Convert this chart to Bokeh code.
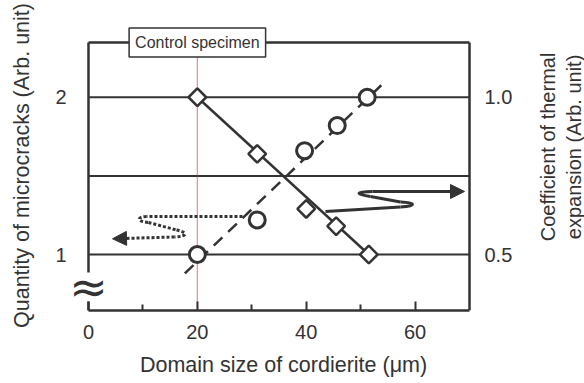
from math import pi
from bokeh.plotting import figure
from bokeh.layouts import row
from bokeh.models import (Range1d, LinearAxis, FixedTicker, PrintfTickFormatter,
                          Label, Arrow, NormalHead)
from bokeh.embed import file_html
from bokeh.resources import INLINE

# ---------------- data ----------------
domain_size = [20, 31, 40, 45.5, 51.5]          # diamonds: quantity of microcracks
microcracks = [2.0, 1.64, 1.29, 1.18, 1.0]
cte_domain = [20, 31, 39.7, 45.7, 51.2]         # circles: coefficient of thermal expansion
cte = [0.5, 0.61, 0.83, 0.91, 1.0]
cte_trend_x = [17.7, 54.5]
cte_trend_y = [0.44, 1.05]
control_x = 20
grid_levels = [1, 1.5, 2]
x_ticks = [0, 20, 40, 60]
x_minor = [10, 30, 50]
left_ticks = [1, 2]
right_ticks = [0.5, 1.0]
right_title = ["Coefficient of thermal", "expansion (Arb. unit)"]

INK = "#333333"
FONT = "Liberation Sans"

XMIN, XMAX = 0, 70            # plotted box
YMIN, YMAX = 0.644, 2.348
BREAK_LO, BREAK_HI = 0.701, 0.886
YTOP = 2.488

p = figure(width=518, height=383,
           x_range=Range1d(-3.307, 74.96), y_range=Range1d(YMIN, YTOP),
           output_backend="svg", toolbar_location=None,
           min_border_left=70, min_border_right=22, min_border_top=20, min_border_bottom=73)
p.background_fill_color = "white"
p.border_fill_color = "white"
p.outline_line_color = None
p.xgrid.visible = False
p.ygrid.visible = False

# x axis
xa = p.xaxis[0]
xa.ticker = FixedTicker(ticks=x_ticks, minor_ticks=x_minor)
xa.bounds = (XMIN, XMAX)
xa.axis_line_color = INK
xa.axis_line_width = 2.5
xa.major_tick_in = 9
xa.major_tick_out = 0
xa.minor_tick_in = 6
xa.minor_tick_out = 0
xa.major_tick_line_color = INK
xa.minor_tick_line_color = INK
xa.major_tick_line_width = 2
xa.minor_tick_line_width = 2
xa.axis_label = "Domain size of cordierite (μm)"

# left axis
ya = p.yaxis[0]
ya.ticker = FixedTicker(ticks=left_ticks)
ya.formatter = PrintfTickFormatter(format="%d")
ya.axis_line_color = None
ya.major_tick_in = 0
ya.major_tick_out = 0
ya.minor_tick_line_color = None
ya.axis_label = "Quantity of microcracks (Arb. unit)"

# right axis (tick labels only; title in side panel)
p.extra_y_ranges = {"cte": Range1d(YMIN / 2, YTOP / 2)}
ra = LinearAxis(y_range_name="cte")
ra.ticker = FixedTicker(ticks=right_ticks)
ra.formatter = PrintfTickFormatter(format="%.1f")
ra.axis_line_color = None
ra.major_tick_in = 0
ra.major_tick_out = 0
ra.minor_tick_line_color = None
p.add_layout(ra, "right")

for ax in (xa, ya, ra):
    ax.major_label_text_font = FONT
    ax.major_label_text_font_size = "20px"
    ax.major_label_text_color = INK
    ax.axis_label_text_font = FONT
    ax.axis_label_text_font_size = "21.5px"
    ax.axis_label_text_color = INK
    ax.axis_label_text_font_style = "normal"
xa.major_label_standoff = 14
xa.axis_label_standoff = 11
ya.major_label_standoff = 4
ya.axis_label_standoff = 18
ra.major_label_standoff = -12

# box lines (top, right, left with break) and horizontal levels
p.segment(x0=[XMIN, XMAX, XMIN, XMIN], y0=[YMAX, YMIN, YMIN, BREAK_HI],
          x1=[XMAX, XMAX, XMIN, XMIN], y1=[YMAX, YMAX, BREAK_LO, YMAX],
          line_color=INK, line_width=2.5)
p.segment(x0=[XMIN] * len(grid_levels), y0=grid_levels,
          x1=[XMAX] * len(grid_levels), y1=grid_levels, line_color=INK, line_width=2)
# control specimen line
p.segment(x0=[control_x], y0=[YMIN], x1=[control_x], y1=[YMAX],
          line_color="#e3262a", line_width=1.3, line_dash="1 1")

# fitted lines
p.line([domain_size[0], domain_size[-1]], [microcracks[0], microcracks[-1]],
       line_color=INK, line_width=2.5)
p.line(cte_trend_x, cte_trend_y, y_range_name="cte", line_color=INK,
       line_width=2.5, line_dash="12 8")

# markers
p.scatter(domain_size, microcracks, marker="square", angle=pi / 4, size=12.5,
          fill_color="white", line_color=INK, line_width=2.5)
p.scatter(cte_domain, cte, marker="circle", size=16, y_range_name="cte",
          fill_color="white", line_color=INK, line_width=3)

# solid S-arrow (to right axis)
p.multi_line([[43.54, 57.32], [57.32, 51.81]], [[1.2736, 1.3022], [1.3340, 1.3690]],
             line_color=INK, line_width=3)
p.bezier(x0=[57.32, 51.81], y0=[1.3022, 1.3690], x1=[57.32, 52.18], y1=[1.3340, 1.4008],
         cx0=[60.26, 48.87], cy0=[1.3067, 1.3849], cx1=[60.26, 49.05], cy1=[1.3308, 1.4008],
         line_color=INK, line_width=3)
p.add_layout(Arrow(end=NormalHead(size=14, fill_color=INK, line_color=INK),
                   x_start=52.18, y_start=1.4008, x_end=69.08, y_end=1.4008,
                   line_color=INK, line_width=3))

# dotted S-arrow (to left axis)
p.multi_line([[28.29, 10.66], [11.02, 16.17]], [[1.2418, 1.2418], [1.2037, 1.1560]],
             line_color=INK, line_width=3, line_dash="3 2")
p.bezier(x0=[10.66, 16.17], y0=[1.2418, 1.1560], x1=[11.02, 15.80], y1=[1.2037, 1.1115],
         cx0=[8.82, 18.37], cy0=[1.2387, 1.1401], cx1=[8.82, 18.19], cy1=[1.2100, 1.1147],
         line_color=INK, line_width=3, line_dash="3 2")
p.add_layout(Arrow(end=NormalHead(size=14, fill_color=INK, line_color=INK),
                   x_start=15.80, y_start=1.1115, x_end=4.41, y_end=1.0999,
                   line_color=INK, line_width=3, line_dash="3 2"))

# control specimen box
p.add_layout(Label(x=control_x, y=YMAX, text="Control specimen", text_align="center",
                   text_baseline="middle", text_font=FONT,
                   text_font_size="16px", text_color=INK,
                   background_fill_color="white", border_line_color=INK,
                   border_line_width=1.5, padding=6))

# axis break symbol
p.add_layout(Label(x=XMIN, y=(BREAK_LO + BREAK_HI) / 2, text="≈", text_align="center",
                   text_baseline="middle", text_font="DejaVu Sans",
                   text_font_size="46px", text_color=INK))

# side panel holding the right-hand axis title (reads bottom to top)
side = figure(width=66, height=383, x_range=Range1d(0, 66), y_range=Range1d(0, 383),
              output_backend="svg", toolbar_location=None,
              x_axis_type=None, y_axis_type=None,
              min_border_left=0, min_border_right=0, min_border_top=0, min_border_bottom=0)
side.outline_line_color = None
side.xgrid.visible = False
side.ygrid.visible = False
side.background_fill_color = "white"
side.border_fill_color = "white"
for xt, line in zip([29.5, 55.5], right_title):
    side.add_layout(Label(x=xt, y=216, text=line, angle=pi / 2, text_align="center",
                          text_baseline="middle", text_font=FONT, text_font_size="20px",
                          text_color=INK))

layout = row(p, side, spacing=0)
open("out.html", "w").write(file_html(layout, INLINE))
